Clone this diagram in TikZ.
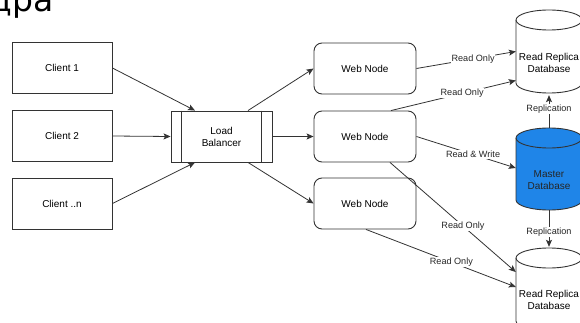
\documentclass[tikz,border=0pt]{standalone}
\usepackage{fontspec}
\setmainfont{Liberation Sans}
\newfontfamily\bigfont{DejaVu Sans}
\usetikzlibrary{arrows.meta,calc}
\definecolor{masterblue}{RGB}{31,133,232}
\definecolor{linegray}{RGB}{51,51,51}
\tikzset{
  box/.style={draw=linegray, line width=0.9pt, minimum width=100pt, minimum height=51pt, inner sep=0pt, align=center, font=\fontsize{10}{12}\selectfont},
  webbox/.style={box, rounded corners=8pt, minimum width=102pt},
  dbarea/.style={minimum width=66pt, minimum height=83pt, inner sep=0pt},
  conn/.style={draw=linegray, line width=0.8pt, -{Stealth[length=7pt,width=6pt,inset=1.5pt]}},
  elabel/.style={fill=white, inner sep=0.8pt, font=\fontsize{9.1}{10}\selectfont, text=black!85},
  dbtext/.style={align=center, font=\fontsize{10}{12}\selectfont, inner sep=0pt}
}
\newcommand{\dbcyl}[4]{% center x, top y, bottom y, fill
  \filldraw[draw=linegray, line width=0.9pt, fill=#4]
    (#1-33,#2+10) -- (#1-33,#3-10) arc (180:360:33pt and 10pt) -- (#1+33,#2+10) arc (0:180:33pt and 10pt) -- cycle;
  \draw[linegray, line width=0.9pt] (#1-33,#2+10) arc (180:360:33pt and 10pt);
}
\begin{document}
\begin{tikzpicture}[x=1pt,y=-1pt]
\useasboundingbox (0,0) rectangle (580,323);
\clip (0,0) rectangle (580,323);
\fill[white] (0,0) rectangle (580,323);

% partial title
\node[anchor=base east, inner sep=0pt, font=\bigfont\fontsize{33}{33}\selectfont] (title) at (54,12) {дра};

% clients
\node[box] (c1) at (62,68) {Client 1};
\node[box] (c2) at (62,136) {Client 2};
\node[box] (cn) at (62,203.5) {Client ..n};

% load balancer
\node[box, minimum width=101pt] (lb) at (221.5,136.5) {Load\\Balancer};
\draw[linegray, line width=0.9pt] ([xshift=11pt]lb.north west) -- ([xshift=11pt]lb.south west);
\draw[linegray, line width=0.9pt] ([xshift=-11pt]lb.north east) -- ([xshift=-11pt]lb.south east);

% web nodes
\node[webbox] (w1) at (365,68.5) {Web Node};
\node[webbox] (w2) at (365,136.5) {Web Node};
\node[webbox] (w3) at (365,203.5) {Web Node};

% databases
\node[dbarea] (rr1) at (549,51.5) {};
\node[dbarea, minimum height=82pt] (ms) at (549,169) {};
\node[dbarea] (rr2) at (549,289.5) {};
\dbcyl{549}{10}{93}{white}
\dbcyl{549}{128}{210}{masterblue}
\dbcyl{549}{248}{331}{white}
\node[dbtext] (rr1t) at (549,63) {Read Replica\\Database};
\node[dbtext, text=black!85] (mst) at (549,180) {Master\\Database};
\node[dbtext] (rr2t) at (549,300) {Read Replica\\Database};

% client -> LB
\draw[conn] (c1.east) -- ([xshift=-26.5pt]lb.north);
\draw[conn] (c2.east) -- (lb.west);
\draw[conn] (cn.east) -- ([xshift=-26.5pt]lb.south);

% LB -> web nodes
\draw[conn] ([xshift=26.5pt]lb.north) -- (w1.west);
\draw[conn] (lb.east) -- (w2.west);
\draw[conn] ([xshift=26.5pt]lb.south) -- (w3.west);

% web -> databases
\draw[conn] (w1.east) -- node[elabel, pos=0.57] {Read Only} (rr1.west);
\draw[conn] ([xshift=26pt]w2.north) -- node[elabel, pos=0.57] {Read Only} ([yshift=-29pt]rr1.west);
\draw[conn] (w2.east) -- node[elabel, pos=0.57] {Read \& Write} ([yshift=1pt]ms.west);
\draw[conn] ([xshift=25pt]w2.south) -- node[elabel, pos=0.58] {Read Only} ([yshift=17.5pt]rr2.west);
\draw[conn] ([xshift=1pt]w3.south) -- node[elabel, pos=0.57] {Read Only} ([yshift=2.5pt]rr2.west);

% replication
\draw[conn] (ms.north) -- node[elabel, pos=0.58] {Replication} ([yshift=-2pt]rr1.south);
\draw[conn] (ms.south) -- node[elabel, pos=0.6] {Replication} ([yshift=1pt]rr2.north);
\end{tikzpicture}
\end{document}
